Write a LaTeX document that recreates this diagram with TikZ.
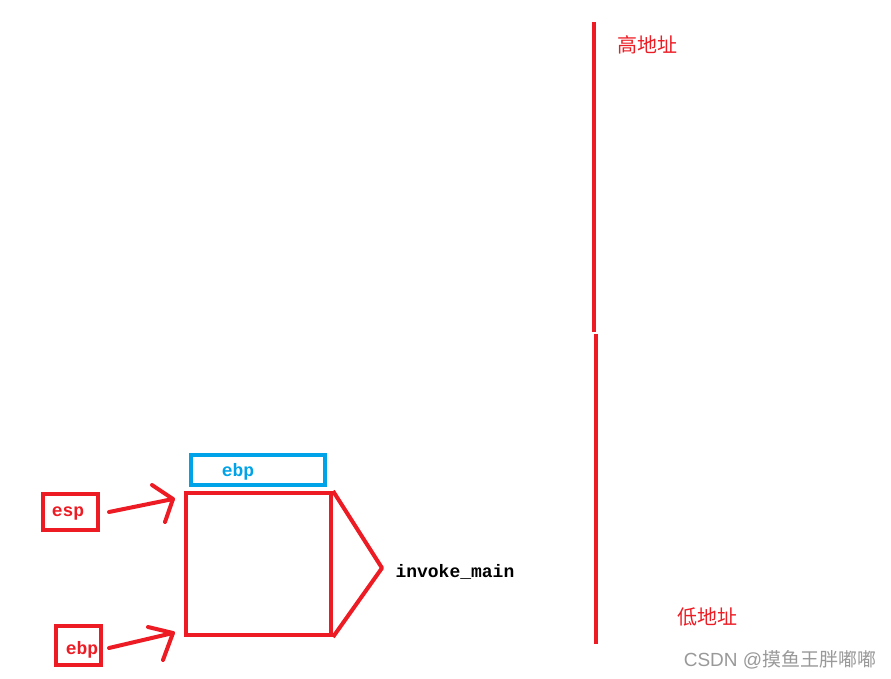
\documentclass[tikz,border=0pt]{standalone}
\usepackage{fontspec}
\setmonofont{Liberation Mono}
\newfontfamily\cjk{Noto Sans CJK SC}
\definecolor{pred}{RGB}{237,28,36}
\definecolor{pblue}{RGB}{0,162,232}
\begin{document}
\begin{tikzpicture}[x=1pt,y=-1pt,
  redl/.style={draw=pred,line width=4pt},
  bluel/.style={draw=pblue,line width=4pt},
  lab/.style={font=\ttfamily\bfseries\fontsize{18}{20}\selectfont},
  cjklab/.style={text=pred,font=\cjk\fontsize{20}{22}\selectfont},
  arr/.style={pred,line width=4pt,line cap=round}]
\useasboundingbox[fill=white] (0,0) rectangle (891,678);
% stack axis
\coordinate (t1) at (594,22);
\coordinate (t2) at (594,332);
\coordinate (b1) at (596,334);
\coordinate (b2) at (596,644);
\draw[pred,line width=4pt] (t1) -- (t2);
\draw[pred,line width=4pt] (b1) -- (b2);
\node[cjklab] (hi) at (647,45) {高地址};
\node[cjklab] (lo) at (707,617) {低地址};
\node[text=black!40,font=\fontspec{Liberation Sans}\fontsize{19}{21}\selectfont] (wm) at (780,660) {CSDN @\cjk 摸鱼王胖嘟嘟};
% frames
\node[bluel,minimum width=134,minimum height=30,inner sep=0] (ebpbox) at (258,470) {};
\node[lab,text=pblue,anchor=center] (ebptxt) at (238,472) {ebp};
\node[redl,minimum width=145,minimum height=142,inner sep=0] (frame) at (258.5,564) {};
\coordinate (tip) at (382,568);
\draw[redl,line join=round] (frame.north east) -- (tip) -- (frame.south east);
\node[lab,text=black,anchor=west] (inv) at (392,572) {invoke\_main};
% esp / ebp
\node[redl,minimum width=55,minimum height=36,inner sep=0] (esp) at (70.5,512) {};
\node[lab,text=pred] (esptxt) at (68,514) {esp};
\node[redl,minimum width=45,minimum height=39,inner sep=0] (ebp) at (78.5,645.5) {};
\node[lab,text=pred] (ebptxt2) at (82,650) {ebp};
% arrows
\coordinate (a1s) at (109,512);
\coordinate (a1e) at (173,499);
\coordinate (a1u) at (152,485);
\coordinate (a1l) at (165,522);
\draw[arr] (a1s) -- (a1e);
\draw[arr,line join=round] (a1u) -- (a1e) -- (a1l);
\coordinate (a2s) at (109,648);
\coordinate (a2e) at (173,633);
\coordinate (a2u) at (148,627);
\coordinate (a2l) at (163,660);
\draw[arr] (a2s) -- (a2e);
\draw[arr,line join=round] (a2u) -- (a2e) -- (a2l);
\end{tikzpicture}
\end{document}
